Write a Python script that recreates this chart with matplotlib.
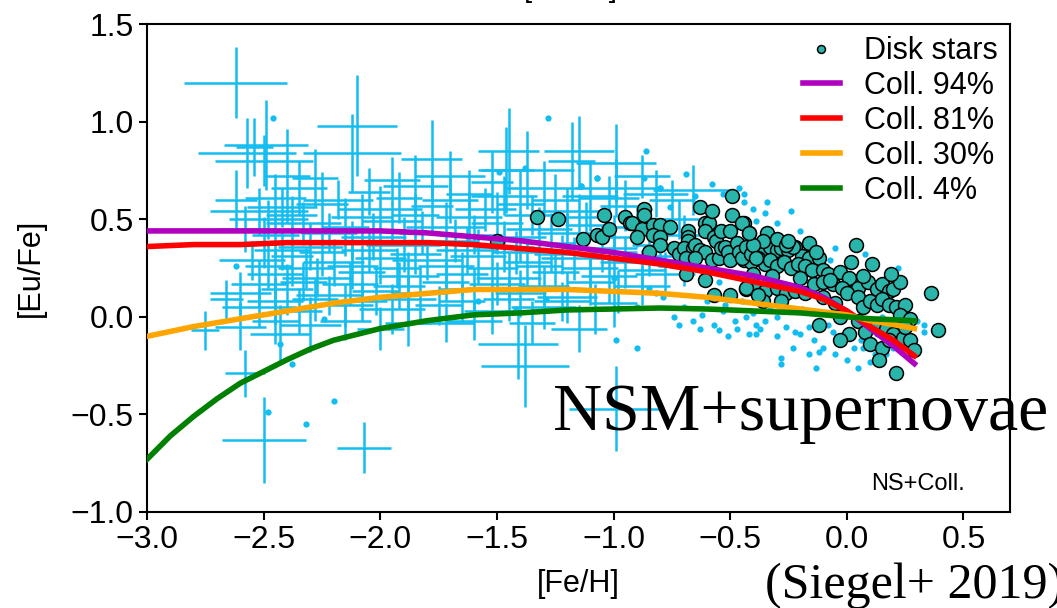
import numpy as np
import matplotlib
matplotlib.use('Agg')
import matplotlib.pyplot as plt

plt.rcParams['font.family'] = ['Liberation Sans', 'DejaVu Sans']

# halo stars with error bars: x, y, xerr, yerr
halo_x = [-2.62, -2.10, -2.57, -2.50, -2.54, -2.49, -2.40, -2.12, -2.62, -2.52, -2.48,
          -2.75, -2.58, -2.50, -2.07, -2.43, -1.41, -1.38, -0.99,
          -1.45, -1.15, -0.99, -1.37, -0.99, -1.78, -1.46, -1.18, -0.66,
          -2.35, -2.05, -1.85, -1.62, -1.30, -1.10, -0.82,
          -2.42, -2.25, -2.00, -1.78, -1.55, -1.40, -1.20, -0.95,
          -2.58, -2.33, -2.15, -1.95, -1.72, -1.50, -1.32, -1.12, -0.90,
          -2.50, -2.30, -2.12, -1.90, -1.68, -1.47, -1.27, -1.05, -0.80,
          -2.55, -2.38, -2.20, -2.00, -1.80, -1.58, -1.37, -1.17, -0.95,
          -2.45, -2.27, -2.08, -1.88, -1.65, -1.45, -1.25, -1.02, -0.78,
          -2.60, -2.40, -2.22, -2.02, -1.83, -1.60, -1.40, -1.20, -0.98,
          -2.52, -2.35, -2.15, -1.95, -1.75, -1.52, -1.30, -1.08,
          -2.60, -2.30, -2.00, -1.72, -1.15, -2.66,
          -2.28, -1.95, -1.70, -1.52, -0.88,
          -2.45, -2.18, -1.92, -1.70, -1.47, -1.25, -1.02, -0.75,
          -2.38, -2.08, -1.85, -1.62, -1.35, -1.15, -0.72,
          -2.45, -2.22, -2.03, -1.82, -1.60, -1.40, -1.20, -1.00, -0.70,
          -2.42, -2.25, -2.05, -1.85, -1.63, -1.42, -1.22, -1.00, -0.85,
          -2.48, -2.32, -2.12, -1.93, -1.72, -1.52, -1.32, -1.10, -0.88, -0.70,
          -2.52, -2.33, -2.13, -1.92, -1.72, -1.50, -1.30, -1.10, -0.88,
          -2.45, -2.28, -2.08, -1.88, -1.65, -1.45, -1.22, -1.00,
          -2.45, -2.15, -1.88, -1.60, -1.35]
halo_y = [1.20, 0.98, 0.84, 0.80, 0.87, 0.88, 0.72, 0.84, 0.60, 0.54, 0.50,
          -0.07, -0.29, -0.63, -0.67, -0.09, -0.14, -0.25, -0.47,
          0.85, 0.85, 0.79, 0.75, 0.66, 0.81, 0.75, 0.80, 0.65,
          0.66, 0.64, 0.67, 0.63, 0.66, 0.62, 0.63,
          0.56, 0.58, 0.55, 0.57, 0.55, 0.58, 0.54, 0.57,
          0.45, 0.48, 0.46, 0.49, 0.46, 0.48, 0.45, 0.47, 0.46,
          0.38, 0.36, 0.39, 0.37, 0.39, 0.36, 0.38, 0.35, 0.37,
          0.29, 0.31, 0.28, 0.30, 0.29, 0.31, 0.28, 0.30, 0.28,
          0.22, 0.20, 0.23, 0.21, 0.22, 0.20, 0.23, 0.21, 0.22,
          0.12, 0.14, 0.11, 0.13, 0.12, 0.14, 0.12, 0.10, 0.13,
          0.05, 0.03, 0.06, 0.04, 0.06, 0.03, 0.05, 0.04,
          -0.05, -0.04, -0.06, -0.03, -0.06, 0.09,
          0.71, 0.70, 0.72, 0.69, 0.72,
          0.61, 0.60, 0.61, 0.60, 0.62, 0.60, 0.61, 0.60,
          0.52, 0.51, 0.52, 0.51, 0.52, 0.51, 0.50,
          0.42, 0.43, 0.41, 0.43, 0.42, 0.41, 0.43, 0.41, 0.42,
          0.34, 0.33, 0.34, 0.32, 0.34, 0.33, 0.32, 0.33, 0.31,
          0.26, 0.25, 0.26, 0.25, 0.26, 0.25, 0.26, 0.25, 0.24, 0.26,
          0.17, 0.18, 0.17, 0.16, 0.18, 0.17, 0.16, 0.18, 0.16,
          0.08, 0.09, 0.08, 0.09, 0.08, 0.09, 0.08, 0.07,
          -0.02, -0.02, -0.03, -0.02, -0.03]
halo_xerr = [0.22, 0.17, 0.21, 0.21, 0.08, 0.18, 0.10, 0.21, 0.09, 0.21, 0.17,
             0.06, 0.085, 0.18, 0.115, 0.13, 0.17, 0.19, 0.20,
             0.13, 0.15, 0.17, 0.20, 0.17, 0.13, 0.12, 0.10, 0.17,
             0.12, 0.09, 0.14, 0.10, 0.16, 0.12, 0.14,
             0.15, 0.11, 0.18, 0.09, 0.13, 0.10, 0.15, 0.11,
             0.12, 0.16, 0.10, 0.13, 0.17, 0.11, 0.14, 0.09, 0.13,
             0.10, 0.14, 0.12, 0.16, 0.10, 0.13, 0.11, 0.15, 0.12,
             0.14, 0.09, 0.13, 0.11, 0.15, 0.12, 0.10, 0.14, 0.11,
             0.12, 0.15, 0.10, 0.13, 0.11, 0.14, 0.10, 0.12, 0.13,
             0.13, 0.11, 0.14, 0.10, 0.12, 0.15, 0.11, 0.13, 0.10,
             0.16, 0.10, 0.12, 0.14, 0.10, 0.12, 0.14, 0.10,
             0.11, 0.13, 0.10, 0.12, 0.12, 0.07,
             0.10, 0.12, 0.15, 0.09, 0.12,
             0.13, 0.15, 0.10, 0.12, 0.14, 0.10, 0.13, 0.10,
             0.11, 0.13, 0.10, 0.14, 0.12, 0.10, 0.11,
             0.10, 0.12, 0.14, 0.10, 0.12, 0.11, 0.13, 0.10, 0.12,
             0.12, 0.10, 0.12, 0.11, 0.13, 0.10, 0.12, 0.10, 0.11,
             0.10, 0.12, 0.11, 0.10, 0.12, 0.11, 0.10, 0.12, 0.10, 0.11,
             0.12, 0.10, 0.12, 0.11, 0.10, 0.12, 0.11, 0.10, 0.12,
             0.12, 0.10, 0.11, 0.12, 0.10, 0.11, 0.12, 0.10,
             0.10, 0.11, 0.10, 0.12, 0.10]
halo_yerr = [0.18, 0.26, 0.18, 0.13, 0.15, 0.23, 0.24, 0.20, 0.15, 0.12, 0.10,
             0.10, 0.12, 0.22, 0.13, 0.15, 0.18, 0.21, 0.22,
             0.22, 0.18, 0.20, 0.20, 0.15, 0.20, 0.22, 0.20, 0.13,
             0.14, 0.12, 0.16, 0.12, 0.14, 0.18, 0.12,
             0.10, 0.16, 0.12, 0.14, 0.11, 0.17, 0.12, 0.13,
             0.12, 0.11, 0.15, 0.10, 0.13, 0.16, 0.11, 0.12, 0.10,
             0.13, 0.12, 0.10, 0.14, 0.11, 0.13, 0.15, 0.12, 0.10,
             0.10, 0.15, 0.12, 0.13, 0.10, 0.14, 0.12, 0.11, 0.13,
             0.12, 0.10, 0.14, 0.12, 0.11, 0.13, 0.10, 0.14, 0.11,
             0.11, 0.13, 0.10, 0.12, 0.14, 0.11, 0.12, 0.13, 0.11,
             0.10, 0.12, 0.11, 0.13, 0.10, 0.12, 0.11, 0.13,
             0.12, 0.14, 0.11, 0.10, 0.12, 0.10,
             0.15, 0.12, 0.13, 0.16, 0.11,
             0.12, 0.10, 0.13, 0.12, 0.10, 0.13, 0.11, 0.10,
             0.10, 0.12, 0.11, 0.13, 0.10, 0.12, 0.10,
             0.11, 0.10, 0.12, 0.11, 0.10, 0.13, 0.10, 0.11, 0.10,
             0.10, 0.12, 0.11, 0.10, 0.12, 0.11, 0.10, 0.12, 0.10,
             0.11, 0.10, 0.12, 0.10, 0.11, 0.12, 0.10, 0.11, 0.10, 0.10,
             0.12, 0.10, 0.11, 0.12, 0.10, 0.11, 0.10, 0.12, 0.10,
             0.12, 0.11, 0.10, 0.12, 0.10, 0.11, 0.10, 0.12,
             0.12, 0.10, 0.12, 0.10, 0.11]

# small blue dots (stars without error bars)
dot_x = [-0.24, -0.34, -0.35, -0.44, -0.39, -0.28, -0.07, 0.11, -0.20, -0.23, -0.28, -0.16,
         -0.12, -0.10, -0.05, 0.05, 0.15, 0.33, 0.33, 0.18, 0.07, -0.42, -0.39, -0.35,
         -0.30, -0.26, -0.16, -0.08, -0.02, 0.03, 0.12, 0.17, 0.20, 0.24, 0.28,
         -1.14, -1.07, -0.80, -0.69, -0.53, -0.46, -0.44, -0.74, -0.72, -0.63, -0.55,
         -0.51, -0.47, -0.39, -0.62, -0.99, -0.90, -0.79, -0.85, -0.43, -0.53,
         -1.58, -1.29, -1.42, -1.28, -0.86, -0.87, -1.07, -1.14, -0.80, -0.76, -1.49, -1.38,
         -2.46, -2.62, -2.48, -2.32, -2.20, -2.24, -2.38, -2.43,
         -0.70, -0.66, -0.60, -0.57, -0.52, -0.48, -0.45, -0.40, -0.37, -0.33, -0.30, -0.27,
         -0.22, -0.19, -0.14, -0.11, -0.06, -0.02, 0.02, 0.06, 0.09, 0.13, 0.20, 0.26, 0.30,
         -0.28, -0.13, 0.00, 0.10, -0.62, -0.55, -0.50, -0.75, -0.66, -0.95, -0.85, -0.65,
         -0.58, -0.40, -0.30, -0.20, -0.05, 0.08, 0.22, -1.00, -0.90, -0.82]
dot_y = [0.54, 0.59, 0.53, 0.63, 0.49, 0.39, 0.29, 0.28, -0.09, -0.16, -0.21, -0.19,
         -0.18, -0.16, -0.19, -0.26, 0.00, -0.04, -0.08, -0.11, -0.16, -0.09, -0.04, -0.02,
         0.00, -0.05, -0.05, -0.04, -0.11, -0.16, -0.19, -0.19, -0.16, -0.15, -0.12,
         0.67, 0.71, 0.66, 0.73, 0.63, 0.66, 0.59, 0.00, -0.04, -0.06, -0.07,
         -0.10, -0.06, -0.09, 0.01, -0.12, -0.16, 0.10, 0.15, 0.00, 0.03,
         0.08, 0.09, 0.04, 1.02, 0.85, 0.71, 0.71, 0.67, 0.66, 0.56, 0.74, 0.76,
         1.02, 0.26, -0.49, -0.55, -0.43, -0.01, -0.24, -0.14,
         0.05, -0.02, 0.08, -0.04, 0.06, -0.02, 0.08, 0.02, -0.06, 0.05, -0.10, 0.03,
         -0.08, 0.04, -0.12, 0.02, -0.08, -0.02, -0.07, -0.12, -0.03, -0.09, -0.04, -0.08, -0.02,
         -0.24, -0.26, -0.22, -0.23, 0.20, 0.18, 0.22, 0.28, 0.26, 0.30, 0.55, 0.62,
         0.68, 0.55, 0.48, 0.44, 0.35, 0.32, 0.25, 0.20, 0.05, 0.12]

# disk stars (teal circles)
disk_x = [-0.45, -0.42, -0.39, -0.36, -0.33, -0.30, -0.28, -0.25, -0.22, -0.19, -0.16, -0.12,
          -0.44, -0.41, -0.38, -0.35, -0.33, -0.30, -0.27, -0.24, -0.21, -0.18, -0.15, -0.10,
          -0.08, -0.03, 0.01,
          -0.43, -0.39, -0.35, -0.30, -0.26, -0.22, -0.18, -0.14, -0.10, -0.06, -0.02, 0.03,
          0.05, 0.09, 0.13, 0.15, 0.18, 0.20, 0.23,
          -0.36, -0.28, -0.10, -0.05, 0.00, 0.05, 0.07, 0.10, 0.13, 0.15, 0.18, 0.21, 0.25,
          0.23, 0.27,
          -0.12, -0.03, 0.01, 0.05, 0.08, 0.13, 0.17, 0.20, 0.24, 0.27, 0.25,
          -0.03, 0.10, 0.15, 0.18, 0.29, 0.14, 0.21,
          -0.42, -0.34, -0.44, -0.23, -0.16, 0.04, 0.36, 0.39, -0.30, -0.26, -0.36,
          -1.33, -1.24, -1.04, -1.13, -1.07, -1.05, -1.02, -0.95, -0.93, -0.92, -0.88, -0.90,
          -0.87, -0.87, -0.83, -0.80, -0.76, -0.83, -0.80, -0.80, -0.85, -0.74, -0.72, -1.50,
          -0.68, -0.68, -0.68, -0.70, -0.66, -0.65, -0.63, -0.61, -0.59, -0.58, -0.61, -0.57,
          -0.56, -0.63, -0.61, -0.69, -0.65, -0.69, -0.61, -0.58, -0.55, -0.54, -0.54, -0.50,
          -0.49, -0.49, -0.52, -0.51, -0.50, -0.47, -0.46, -0.45, -0.43, -0.41, -0.40, -0.39,
          -0.45, -0.42, -0.43, -0.38, -0.57, -0.50,
          -0.32, -0.20, -0.07, 0.07, 0.19, -0.25, -0.13, 0.11, 0.02, -0.40]
disk_y = [0.35, 0.34, 0.35, 0.33, 0.36, 0.34, 0.35, 0.34, 0.36, 0.31, 0.30, 0.30,
          0.29, 0.28, 0.30, 0.27, 0.29, 0.26, 0.28, 0.25, 0.27, 0.26, 0.24, 0.24,
          0.22, 0.23, 0.20,
          0.14, 0.15, 0.13, 0.15, 0.12, 0.13, 0.12, 0.17, 0.18, 0.17, 0.15, 0.13,
          0.15, 0.18, 0.14, 0.17, 0.13, 0.14, 0.18,
          0.08, 0.08, 0.10, 0.07, 0.12, 0.10, 0.05, 0.08, 0.06, 0.09, 0.06, 0.05, 0.06,
          0.01, -0.01,
          -0.04, 0.00, -0.09, -0.02, -0.08, -0.04, -0.06, -0.09, -0.11, -0.12, -0.05,
          -0.12, -0.14, -0.16, -0.12, -0.17, -0.22, -0.29,
          0.43, 0.43, 0.48, 0.36, 0.38, 0.37, 0.12, -0.07, 0.40, 0.37, 0.39,
          0.51, 0.50, 0.52, 0.40, 0.42, 0.41, 0.45, 0.51, 0.48, 0.48, 0.45, 0.41,
          0.55, 0.52, 0.47, 0.47, 0.46, 0.42, 0.41, 0.37, 0.33, 0.35, 0.32, 0.39,
          0.44, 0.41, 0.39, 0.35, 0.35, 0.37, 0.56, 0.48, 0.48, 0.54, 0.44, 0.41,
          0.39, 0.34, 0.33, 0.30, 0.30, 0.22, 0.19, 0.29, 0.30, 0.35, 0.44, 0.44,
          0.52, 0.62, 0.36, 0.33, 0.29, 0.38, 0.33, 0.30, 0.36, 0.32, 0.37, 0.30,
          0.48, 0.43, 0.15, 0.11, 0.11, 0.11,
          0.21, 0.20, 0.19, 0.21, 0.22, 0.39, 0.33, 0.27, 0.28, 0.22]

# chemical evolution models
feh_model = [-3.0, -2.9, -2.8, -2.7, -2.6, -2.5, -2.4, -2.3, -2.2, -2.0, -1.8, -1.6,
             -1.4, -1.2, -1.0, -0.8, -0.6, -0.4, -0.2, -0.1, 0.0, 0.1, 0.2, 0.29]
coll94 = [0.44, 0.44, 0.44, 0.44, 0.44, 0.44, 0.44, 0.44, 0.44, 0.44, 0.43, 0.41,
          0.39, 0.36, 0.33, 0.29, 0.25, 0.21, 0.15, 0.10, 0.03, -0.06, -0.15, -0.24]
coll81 = [0.36, 0.365, 0.37, 0.37, 0.37, 0.375, 0.38, 0.38, 0.38, 0.38, 0.38, 0.37,
          0.35, 0.33, 0.30, 0.27, 0.23, 0.18, 0.13, 0.09, 0.03, -0.05, -0.12, -0.20]
coll30 = [-0.10, -0.075, -0.05, -0.03, -0.01, 0.01, 0.03, 0.05, 0.07, 0.10, 0.12, 0.14,
          0.14, 0.14, 0.13, 0.12, 0.10, 0.07, 0.04, 0.025, 0.01, -0.02, -0.04, -0.06]
coll4 = [-0.73, -0.61, -0.51, -0.42, -0.34, -0.28, -0.22, -0.165, -0.12, -0.06, -0.02, 0.01,
         0.02, 0.035, 0.04, 0.045, 0.04, 0.03, 0.02, 0.01, 0.0, -0.01, -0.015, -0.02]

fig = plt.figure(figsize=(10.57, 6.08), dpi=100)
ax = fig.add_axes([0.1391, 0.1579, 0.8165, 0.8026])

halo_col = '#12bdf0'
ax.errorbar(halo_x, halo_y, xerr=halo_xerr, yerr=halo_yerr, fmt='none',
            ecolor=halo_col, elinewidth=1.8, zorder=1)
ax.plot(dot_x, dot_y, 'o', color=halo_col, ms=4.5, mec='none', zorder=2)
ax.plot(disk_x, disk_y, 'o', color='#2ab5aa', mec='black', mew=1.1, ms=10,
        zorder=3, label='Disk stars')

ax.plot(feh_model, coll94, color='#b000c0', lw=4, label='Coll. 94%', zorder=4)
ax.plot(feh_model, coll81, color='#ff0000', lw=4, label='Coll. 81%', zorder=4)
ax.plot(feh_model, coll30, color='#ffa500', lw=4, label='Coll. 30%', zorder=4)
ax.plot(feh_model, coll4, color='#008000', lw=4, label='Coll. 4%', zorder=4)

ax.set_xlim(-3.0, 0.7)
ax.set_ylim(-1.0, 1.5)
ax.set_xticks([-3.0, -2.5, -2.0, -1.5, -1.0, -0.5, 0.0, 0.5])
ax.set_yticks([-1.0, -0.5, 0.0, 0.5, 1.0, 1.5])
ax.tick_params(labelsize=23, length=6, width=1.5)
for s in ax.spines.values():
    s.set_linewidth(1.5)
ax.set_xlabel('[Fe/H]', fontsize=22, labelpad=10)
ax.set_ylabel('[Eu/Fe]', fontsize=22, labelpad=18)

leg = ax.legend(loc='upper right', fontsize=22, frameon=False, handlelength=1.2,
                handletextpad=0.8, labelspacing=0.16, borderaxespad=0.0,
                markerscale=0.57)

ax.text(0.948, 0.045, 'NS+Coll.', transform=ax.transAxes, ha='right',
        va='baseline', fontsize=17)

fig.text(571 / 1057, 1 + 3 / 608, '[Eu/Fe]', ha='center', va='baseline', fontsize=21)
fig.text(553 / 1057, (608 - 430) / 608, 'NSM+supernovae', family='Liberation Serif',
         fontsize=49, ha='left', va='baseline')
fig.text(765 / 1057, (608 - 598) / 608, '(Siegel+ 2019)', family='Liberation Serif',
         fontsize=36, ha='left', va='baseline')

fig.savefig('out.png', dpi=100)
